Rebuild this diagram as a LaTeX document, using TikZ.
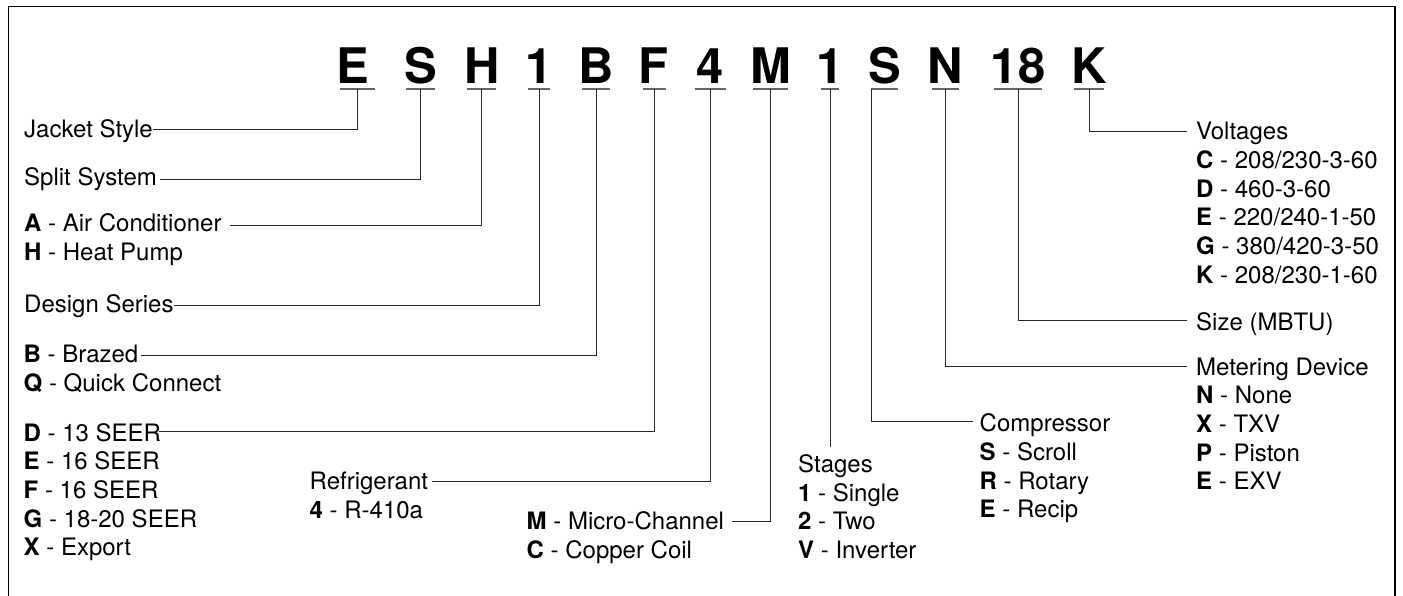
\documentclass[tikz,border=0pt]{standalone}
\usepackage{fontspec}
\setmainfont{TeX Gyre Heros}
\tikzset{
  big/.style={font=\fontsize{49}{49}\selectfont\bfseries, inner sep=0pt, anchor=base},
  lab/.style={font=\fontsize{24}{28.7}\selectfont, inner sep=0pt, anchor=base west, text height=18pt, text depth=2pt},
  conn/.style={draw=black!85, line width=1pt},
  ul/.style={draw=black!60, line width=1.4pt},
  frame/.style={draw=black, line width=1.6pt}
}
\begin{document}
\begin{tikzpicture}[x=1pt,y=-1pt]
\useasboundingbox (0,0) rectangle (1403,595);
\draw[frame] (8.5,600) -- (8.5,6.5) -- (1395,6.5) -- (1395,600);

% code letters: name / glyph centre / underline centre / underline width / text
\foreach \n/\x/\u/\w/\t in {lE/353/357.5/35/E, lS/420.5/420.5/29/S, lH/482/481.5/29/H,
  lOne/539/539/22/1, lB/596/596/28/B, lF/653.5/654.5/23/F, l4/710.5/710.5/31/4,
  lM/770.5/770.5/35/M, lOneb/830/830/18/1, lSb/884.5/884.5/27/S, lN/945.5/945.5/27/N,
  l18/1018/1018/48/18, lK/1089/1089/30/K}{
  \node[big] (\n) at (\x,83) {\t};
  \coordinate (d\n) at (\u,89);
  \coordinate (w\n) at ({\u-\w/2},89);
  \coordinate (e\n) at ({\u+\w/2},89);
  \draw[ul] (w\n) -- (e\n);
}

% left column
\node[lab] (jacket) at (24,137.7) {Jacket Style};
\node[lab] (split)  at (24,185) {Split System};
\node[lab] (type1)  at (24,231.7) {\textbf{A} - Air Conditioner};
\node[lab] (type2)  at (24,260.5) {\textbf{H} - Heat Pump};
\node[lab] (design) at (24,312) {Design Series};
\node[lab] (conn1)  at (23.5,362.7) {\textbf{B} - Brazed};
\node[lab] (conn2)  at (23.5,391.5) {\textbf{Q} - Quick Connect};
\node[lab] (seer1)  at (23.5,441.7) {\textbf{D} - 13 SEER};
\node[lab] (seer2)  at (23.5,469.7) {\textbf{E} - 16 SEER};
\node[lab] (seer3)  at (23.5,498.4) {\textbf{F} - 16 SEER};
\node[lab] (seer4)  at (23.5,527.1) {\textbf{G} - 18-20 SEER};
\node[lab] (seer5)  at (23.5,555.8) {\textbf{X} - Export};

% middle
\node[lab] (refr1) at (309.5,489.3) {Refrigerant};
\node[lab] (refr2) at (309.5,518.2) {\textbf{4} - R-410a};
\node[lab] (coil1) at (526.5,529.3) {\textbf{M} - Micro-Channel};
\node[lab] (coil2) at (526.5,558.2) {\textbf{C} - Copper Coil};
\node[lab] (stages) at (798,472.3) {Stages};
\node[lab] (stg1) at (798,501) {\textbf{1} - Single};
\node[lab] (stg2) at (798,529.8) {\textbf{2} - Two};
\node[lab] (stg3) at (798,558.6) {\textbf{V} - Inverter};
\node[lab] (comp) at (979.5,431.7) {Compressor};
\node[lab] (comp1) at (979.5,460.3) {\textbf{S} - Scroll};
\node[lab] (comp2) at (979.5,489) {\textbf{R} - Rotary};
\node[lab] (comp3) at (979.5,517.8) {\textbf{E} - Recip};

% right column
\node[lab] (volt) at (1196,139.3) {Voltages};
\node[lab] (volt1) at (1196,168.4) {\textbf{C} - 208/230-3-60};
\node[lab] (volt2) at (1196,197.1) {\textbf{D} - 460-3-60};
\node[lab] (volt3) at (1196,225.8) {\textbf{E} - 220/240-1-50};
\node[lab] (volt4) at (1196,254.5) {\textbf{G} - 380/420-3-50};
\node[lab] (volt5) at (1196,283.2) {\textbf{K} - 208/230-1-60};
\node[lab] (size) at (1196,330) {Size (MBTU)};
\node[lab] (meter) at (1196,375) {Metering Device};
\node[lab] (meter1) at (1196,403.7) {\textbf{N} - None};
\node[lab] (meter2) at (1196,432.4) {\textbf{X} - TXV};
\node[lab] (meter3) at (1196,461.1) {\textbf{P} - Piston};
\node[lab] (meter4) at (1196,489.8) {\textbf{E} - EXV};

% connectors
\draw[conn] (dlE) |- (jacket.east);
\draw[conn] (dlS) |- ([xshift=3pt,yshift=-2pt]split.east);
\draw[conn] (dlH) |- ([xshift=8pt,yshift=-1.3pt]type1.east);
\draw[conn] (dlOne) |- ([yshift=-1pt]design.east);
\draw[conn] (dlB) |- ([xshift=3pt,yshift=-1pt]conn1.east);
\draw[conn] (dlF) |- ([xshift=-2pt,yshift=2.7pt]seer1.east);
\draw[conn] (dl4) |- ([xshift=4pt]refr1.east);
\draw[conn] (dlM) |- ([xshift=8pt]coil1.east);
\draw[conn] (dlOneb) -- ([yshift=7pt]stages.north -| dlOneb);
\draw[conn] (wlSb) |- ([xshift=-7pt,yshift=2.7pt]comp.west);
\draw[conn] (dlN) |- ([xshift=-9pt,yshift=1pt]meter.west);
\draw[conn] (dl18) |- ([xshift=-9pt,yshift=1.3pt]size.west);
\draw[conn] (dlK) |- ([xshift=-9pt]volt.west);
\end{tikzpicture}
\end{document}
